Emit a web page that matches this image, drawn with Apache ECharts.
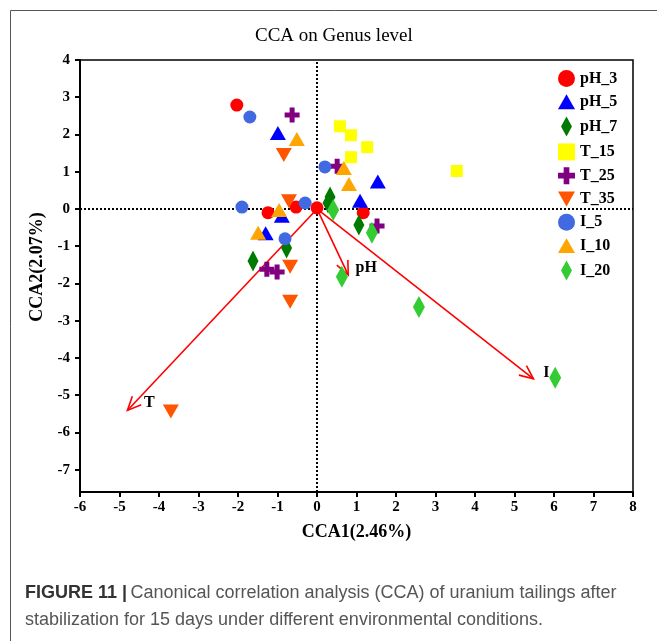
<!DOCTYPE html>
<html><head><meta charset="utf-8">
<script src="https://cdn.jsdelivr.net/npm/echarts@6/dist/echarts.min.js"></script>
<style>html,body{margin:0;padding:0;background:#fff}#c{width:657px;height:641px}</style>
</head><body><div id="c"></div>
<script>
// ---- data ----
const xTicks = [-6,-5,-4,-3,-2,-1,0,1,2,3,4,5,6,7,8];
const yTicks = [-7,-6,-5,-4,-3,-2,-1,0,1,2,3,4];

const groupNames = ['pH_3','pH_5','pH_7','T_15','T_25','T_35','I_5','I_10','I_20'];

const pH3X = [-2.03, -1.24, -0.53, 0.00, 1.17];
const pH3Y = [ 2.79, -0.10,  0.05, 0.03, -0.10];
const pH5X = [-0.99, -0.89, -1.30, 1.09, 1.54];
const pH5Y = [ 2.04, -0.18, -0.65, 0.22, 0.74];
const pH7X = [ 0.33,  0.28, 1.06, -0.77, -1.62];
const pH7Y = [ 0.32,  0.16, -0.43, -1.05, -1.40];
const T15X = [ 0.58, 0.86, 1.27, 0.86, 3.54];
const T15Y = [ 2.22, 1.98, 1.66, 1.39, 1.02];
const T25X = [-0.63, 0.51, 1.52, -1.27, -1.01];
const T25Y = [ 2.52, 1.15, -0.46, -1.62, -1.69];
const T35X = [-0.84, -0.71, -0.68, -0.68, -3.70];
const T35Y = [ 1.45,  0.21, -1.55, -2.49, -5.44];
const I5X  = [-1.70, 0.20, -1.90, -0.30, -0.81];
const I5Y  = [ 2.47, 1.13,  0.05,  0.16, -0.80];
const I10X = [-0.51, 0.68, 0.81, -0.96, -1.49];
const I10Y = [ 1.88, 1.10, 0.67, -0.03, -0.64];
const I20X = [ 0.41, 1.39, 0.63, 2.58, 6.03];
const I20Y = [-0.03, -0.64, -1.82, -2.63, -4.53];

const arrowNames = ['T', 'pH', 'I'];
const arrowX = [-4.80, 0.79, 5.48];
const arrowY = [-5.41, -1.77, -4.56];

// ---- styles ----
const SERIF = '"Liberation Serif", "DejaVu Serif", serif';
const SANS = '"Liberation Sans", Arial, sans-serif';
const groupX = [pH3X, pH5X, pH7X, T15X, T25X, T35X, I5X, I10X, I20X];
const groupY = [pH3Y, pH5Y, pH7Y, T15Y, T25Y, T35Y, I5Y, I10Y, I20Y];
const groupColor = ['#ff0000', '#0000ff', '#007a00', '#ffff00', '#800080', '#ff5500', '#4169e1', '#ffa500', '#33cc33'];
const DIAMOND = 'path://M6,0 L12,11 L6,22 L0,11 Z';
const UPTRI = 'path://M8,0 L16,14 L0,14 Z';
const DOWNTRI = 'path://M0,0 L16,0 L8,14 Z';
const CROSS = 'path://M5,0 H10 V5 H15 V10 H10 V15 H5 V10 H0 V5 H5 Z';
const SQUARE = 'path://M0,0 H12 V12 H0 Z';
const groupSymbol = ['circle', UPTRI, DIAMOND, SQUARE, CROSS, DOWNTRI, 'circle', UPTRI, DIAMOND];
const groupSize = [13, [16,14], [11,21], 12, 15, [16,14], 13, [16,14], [12,22]];
const labelOffsets = [[22,-8],[18,-7],[13,-6]];

const chart = echarts.init(document.getElementById('c'), null, {renderer: 'canvas'});

const scatterSeries = groupNames.map((n, i) => ({
  name: n,
  type: 'scatter',
  z: 5,
  symbol: groupSymbol[i],
  symbolSize: groupSize[i],
  itemStyle: {color: groupColor[i], opacity: 1},
  data: groupX[i].map((x, j) => [x, groupY[i][j]])
}));

const option = {
  animation: false,
  backgroundColor: '#fff',
  title: {
    text: 'CCA on Genus level',
    left: 250, top: 22,
    textStyle: {fontFamily: SERIF, fontSize: 19, fontWeight: 'normal', color: '#000'}
  },
  grid: {left: 80, right: 24, top: 60, bottom: 149, show: true, borderColor: '#000', borderWidth: 1.5, backgroundColor: 'transparent'},
  legend: {
    orient: 'vertical',
    left: 553, top: 65,
    itemWidth: 17, itemHeight: 20, itemGap: 6.8,
    data: groupNames,
    textStyle: {fontFamily: SERIF, fontSize: 16, fontWeight: 'bold', color: '#000'}
  },
  xAxis: {
    type: 'value', min: -6, max: 8, interval: 1,
    name: 'CCA1(2.46%)', nameLocation: 'middle', nameGap: 31,
    nameTextStyle: {fontFamily: SERIF, fontSize: 18, fontWeight: 'bold', color: '#000'},
    axisLine: {show: true, onZero: false, lineStyle: {color: '#000', width: 2}},
    axisTick: {show: true, length: 5, lineStyle: {color: '#000', width: 2}},
    axisLabel: {margin: 8, fontFamily: SERIF, fontSize: 15, fontWeight: 'bold', color: '#000', formatter: v => String(v)},
    splitLine: {show: false}
  },
  yAxis: {
    type: 'value', min: -7.6, max: 4,
    name: 'CCA2(2.07%)', nameLocation: 'middle', nameGap: 34, nameRotate: 90,
    nameTextStyle: {fontFamily: SERIF, fontSize: 18, fontWeight: 'bold', color: '#000', padding: [0, 0, 0, 18]},
    axisLine: {show: true, onZero: false, lineStyle: {color: '#000', width: 2}},
    axisTick: {show: true, length: 5, lineStyle: {color: '#000', width: 2}, customValues: yTicks},
    axisLabel: {margin: 10, fontFamily: SERIF, fontSize: 15, fontWeight: 'bold', color: '#000', customValues: yTicks, formatter: v => String(v)},
    splitLine: {show: false}
  },
  series: [
    {
      type: 'line', data: [], z: 1, silent: true,
      markLine: {
        silent: true, symbol: 'none', animation: false,
        label: {show: false},
        lineStyle: {color: '#000', type: [2, 2], width: 2},
        data: [{xAxis: 0}, {yAxis: 0}]
      }
    },
    {
      type: 'custom', z: 3, silent: true,
      data: arrowX.map((x, i) => [x, arrowY[i]]),
      renderItem: function (params, api) {
        const s = api.coord([0, 0]);
        const e = api.coord([api.value(0), api.value(1)]);
        const ang = Math.atan2(e[1] - s[1], e[0] - s[0]);
        const L = 15, a = 0.42;
        const p1 = [e[0] - L * Math.cos(ang - a), e[1] - L * Math.sin(ang - a)];
        const p2 = [e[0] - L * Math.cos(ang + a), e[1] - L * Math.sin(ang + a)];
        const off = labelOffsets[params.dataIndex];
        return {
          type: 'group',
          children: [
            {type: 'line', shape: {x1: s[0], y1: s[1], x2: e[0], y2: e[1]}, style: {stroke: '#ff0000', lineWidth: 1.6}},
            {type: 'polyline', shape: {points: [p1, e, p2]}, style: {stroke: '#ff0000', lineWidth: 1.6, fill: null}},
            {type: 'text', x: e[0] + off[0], y: e[1] + off[1],
              style: {text: arrowNames[params.dataIndex], font: 'bold 16px ' + SERIF, fill: '#000', textAlign: 'center', textVerticalAlign: 'middle'}}
          ]
        };
      }
    }
  ].concat(scatterSeries),
  graphic: [
    {type: 'rect', left: 8, top: 8, z: 0, silent: true,
      shape: {width: 700, height: 700}, style: {fill: 'none', stroke: '#555', lineWidth: 1}},
    {type: 'text', left: 25, top: 580, z: 10, silent: true,
      style: {
        text: '{b|FIGURE 11 |} {n|Canonical correlation analysis (CCA) of uranium tailings after}\n{n|stabilization for 15 days under different environmental conditions.}',
        lineHeight: 27,
        rich: {
          b: {fontFamily: SANS, fontSize: 18, fontWeight: 'bold', fill: '#333', lineHeight: 27},
          n: {fontFamily: SANS, fontSize: 18, fill: '#555', lineHeight: 27}
        }
      }}
  ]
};
chart.setOption(option);
</script>
</body></html>
